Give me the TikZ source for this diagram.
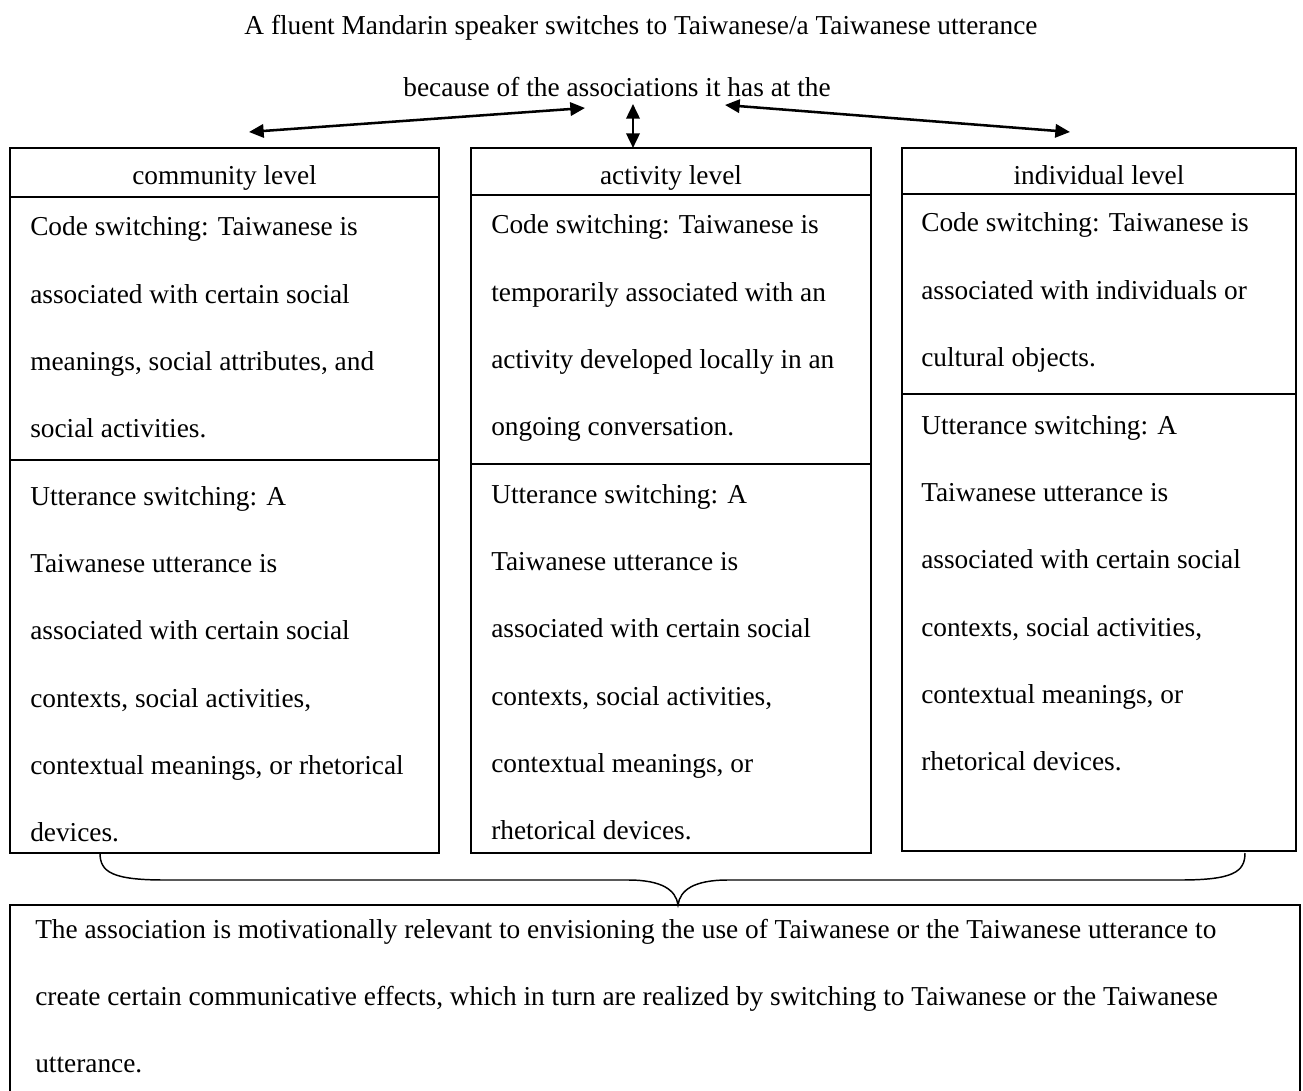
\documentclass[tikz,border=0pt]{standalone}
\usepackage{fontspec}
\setmainfont{Liberation Serif}
\usetikzlibrary{arrows.meta}
\tikzset{
  part/.style={draw, line width=1.1pt, anchor=north west, inner sep=0pt, outer sep=0pt},
  body/.style={anchor=base west, inner sep=0pt, font=\fontsize{20.5pt}{50.5pt}\selectfont},
  lab/.style={anchor=base, inner sep=0pt, font=\fontsize{20.5pt}{24pt}\selectfont},
  dbl/.style={{Triangle[length=11pt,width=10pt]}-{Triangle[length=11pt,width=10pt]}, line width=1.9pt},
  brace/.style={line width=1.1pt}
}
\newcommand{\bx}[1]{\parbox[t]{960pt}{\raggedright #1}}
\begin{document}
\begin{tikzpicture}[x=0.75pt,y=-0.75pt]
\useasboundingbox (0,0) rectangle (1303,1091);
\clip (0,0) rectangle (1303,1091);
% title
\node[lab] (t1) at (641,35) {A fluent Mandarin speaker switches to Taiwanese/a Taiwanese utterance};
\node[lab] (t2) at (617,97) {because of the associations it has at the};
% column 1
\node[part, minimum width=321.75pt, minimum height=36.75pt] (h1) at (10,148) {};
\node[part, minimum width=321.75pt, minimum height=197.25pt] (cs1) at (10,197) {};
\node[part, minimum width=321.75pt, minimum height=294.75pt] (us1) at (10,460) {};
% column 2
\node[part, minimum width=300pt, minimum height=35.25pt] (h2) at (471,148) {};
\node[part, minimum width=300pt, minimum height=201.75pt] (cs2) at (471,195) {};
\node[part, minimum width=300pt, minimum height=291.75pt] (us2) at (471,464) {};
% column 3
\node[part, minimum width=295.5pt, minimum height=34.5pt] (h3) at (902,148) {};
\node[part, minimum width=295.5pt, minimum height=150pt] (cs3) at (902,194) {};
\node[part, minimum width=295.5pt, minimum height=342.75pt] (us3) at (902,394) {};
% bottom box
\node[part, minimum width=967.5pt, minimum height=146.25pt] (res) at (10,905) {};
% header labels
\node[lab] (l1) at (224.5,185) {community level};
\node[lab] (l2) at (671,185) {activity level};
\node[lab] (l3) at (1099,185) {individual level};
% texts column 1
\node[body] (x1a) at (30,236) {\bx{Code switching: Taiwanese is\\associated with certain social\\meanings, social attributes, and\\social activities.}};
\node[body] (x1b) at (30,505) {\bx{Utterance switching: A\\Taiwanese utterance is\\associated with certain social\\contexts, social activities,\\contextual meanings, or rhetorical\\devices.}};
% texts column 2
\node[body] (x2a) at (491,234) {\bx{Code switching: Taiwanese is\\temporarily associated with an\\activity developed locally in an\\ongoing conversation.}};
\node[body] (x2b) at (491,503) {\bx{Utterance switching: A\\Taiwanese utterance is\\associated with certain social\\contexts, social activities,\\contextual meanings, or\\rhetorical devices.}};
% texts column 3
\node[body] (x3a) at (921,232) {\bx{Code switching: Taiwanese is\\associated with individuals or\\cultural objects.}};
\node[body] (x3b) at (921,434) {\bx{Utterance switching: A\\Taiwanese utterance is\\associated with certain social\\contexts, social activities,\\contextual meanings, or\\rhetorical devices.}};
% bottom text
\node[body] (xr) at (35,938) {\bx{The association is motivationally relevant to envisioning the use of Taiwanese or the Taiwanese utterance to\\create certain communicative effects, which in turn are realized by switching to Taiwanese or the Taiwanese\\utterance.}};
% arrows
\coordinate (aL1) at (585,108);
\coordinate (aL2) at (249,132);
\coordinate (aR1) at (725,105);
\coordinate (aR2) at (1070,132);
\coordinate (aM) at (633,104);
\draw[dbl] (aL1) -- (aL2);
\draw[dbl] (aR1) -- (aR2);
\draw[dbl] (aM) -- (aM |- h2.north);
% brace
\coordinate (bL) at (100,853);
\coordinate (bR) at (1245,853);
\draw[brace] (bL) .. controls (100,872) and (112,880) .. (165,880) -- (628,880)
  .. controls (662,880) and (676,890) .. (res.north -| 678,0)
  .. controls (680,890) and (694,880) .. (728,880) -- (1180,880)
  .. controls (1233,880) and (1245,872) .. (bR);
\end{tikzpicture}
\end{document}
